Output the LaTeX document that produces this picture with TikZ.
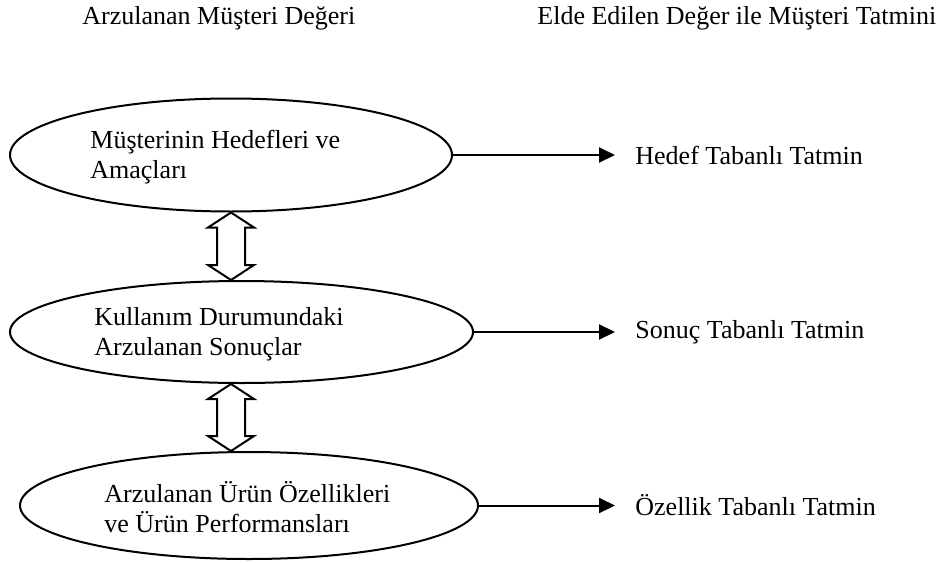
\documentclass[tikz,border=0pt]{standalone}
\usepackage{fontspec}
\setmainfont{Liberation Serif}
\usetikzlibrary{arrows.meta,calc,shapes.geometric}

% hollow double-headed block arrow between two points (top and bottom tips)
\newcommand{\hollowdbl}[2]{%
  \draw[line width=1pt, line join=miter, fill=white]
    (#1) -- ($(#1)+(23,15)$) -- ($(#1)+(14,15)$) -- ($(#2)+(14,-15)$)
    -- ($(#2)+(23,-15)$) -- (#2) -- ($(#2)+(-23,-15)$) -- ($(#2)+(-14,-15)$)
    -- ($(#1)+(-14,15)$) -- ($(#1)+(-23,15)$) -- cycle;}

\begin{document}
\begin{tikzpicture}[x=0.5pt,y=-0.5pt,
  every node/.style={font=\fontsize{13}{15}\selectfont},
  valuebox/.style={draw, line width=1pt, ellipse, inner sep=0pt},
  boxtext/.style={anchor=west, align=left, inner sep=0pt},
  outcome/.style={anchor=west, inner sep=0pt},
  heading/.style={anchor=base west, inner sep=0pt},
  flow/.style={line width=1pt, -{Triangle[length=8pt,width=7.5pt]}, shorten >=10pt}]

  \useasboundingbox (0,0) rectangle (952,562);

  % column headings
  \node[heading] (h1) at (82,25) {Arzulanan Müşteri Değeri};
  \node[heading] (h2) at (537,25) {Elde Edilen Değer ile Müşteri Tatmini};

  % desired value hierarchy
  \node[valuebox, minimum width=221pt, minimum height=56.5pt] (e1) at (231,155) {};
  \node[valuebox, minimum width=231.5pt, minimum height=51pt] (e2) at (241.5,332) {};
  \node[valuebox, minimum width=229pt, minimum height=53.5pt] (e3) at (249,505.5) {};

  \node[boxtext] (t1) at (90,157) {Müşterinin Hedefleri ve\\Amaçları};
  \node[boxtext] (t2) at (94,334) {Kullanım Durumundaki\\Arzulanan Sonuçlar};
  \node[boxtext] (t3) at (104,507) {Arzulanan Ürün Özellikleri\\ve Ürün Performansları};

  % two-way links between levels
  \coordinate (a1) at (e1.south);
  \coordinate (b1) at (e1.south |- e2.north);
  \coordinate (a2) at (e2.south -| e1.south);
  \coordinate (b2) at (e1.south |- e3.north);
  \hollowdbl{a1}{b1}
  \hollowdbl{a2}{b2}

  % satisfaction outcomes
  \node[outcome] (s1) at (635,155) {Hedef Tabanlı Tatmin};
  \node[outcome] (s2) at (635,332) {Sonuç Tabanlı Tatmin};
  \node[outcome] (s3) at (635,505.5) {Özellik Tabanlı Tatmin};

  \draw[flow] (e1.east) -- (e1.east -| s1.west);
  \draw[flow] (e2.east) -- (e2.east -| s2.west);
  \draw[flow] (e3.east) -- (e3.east -| s3.west);
\end{tikzpicture}
\end{document}
